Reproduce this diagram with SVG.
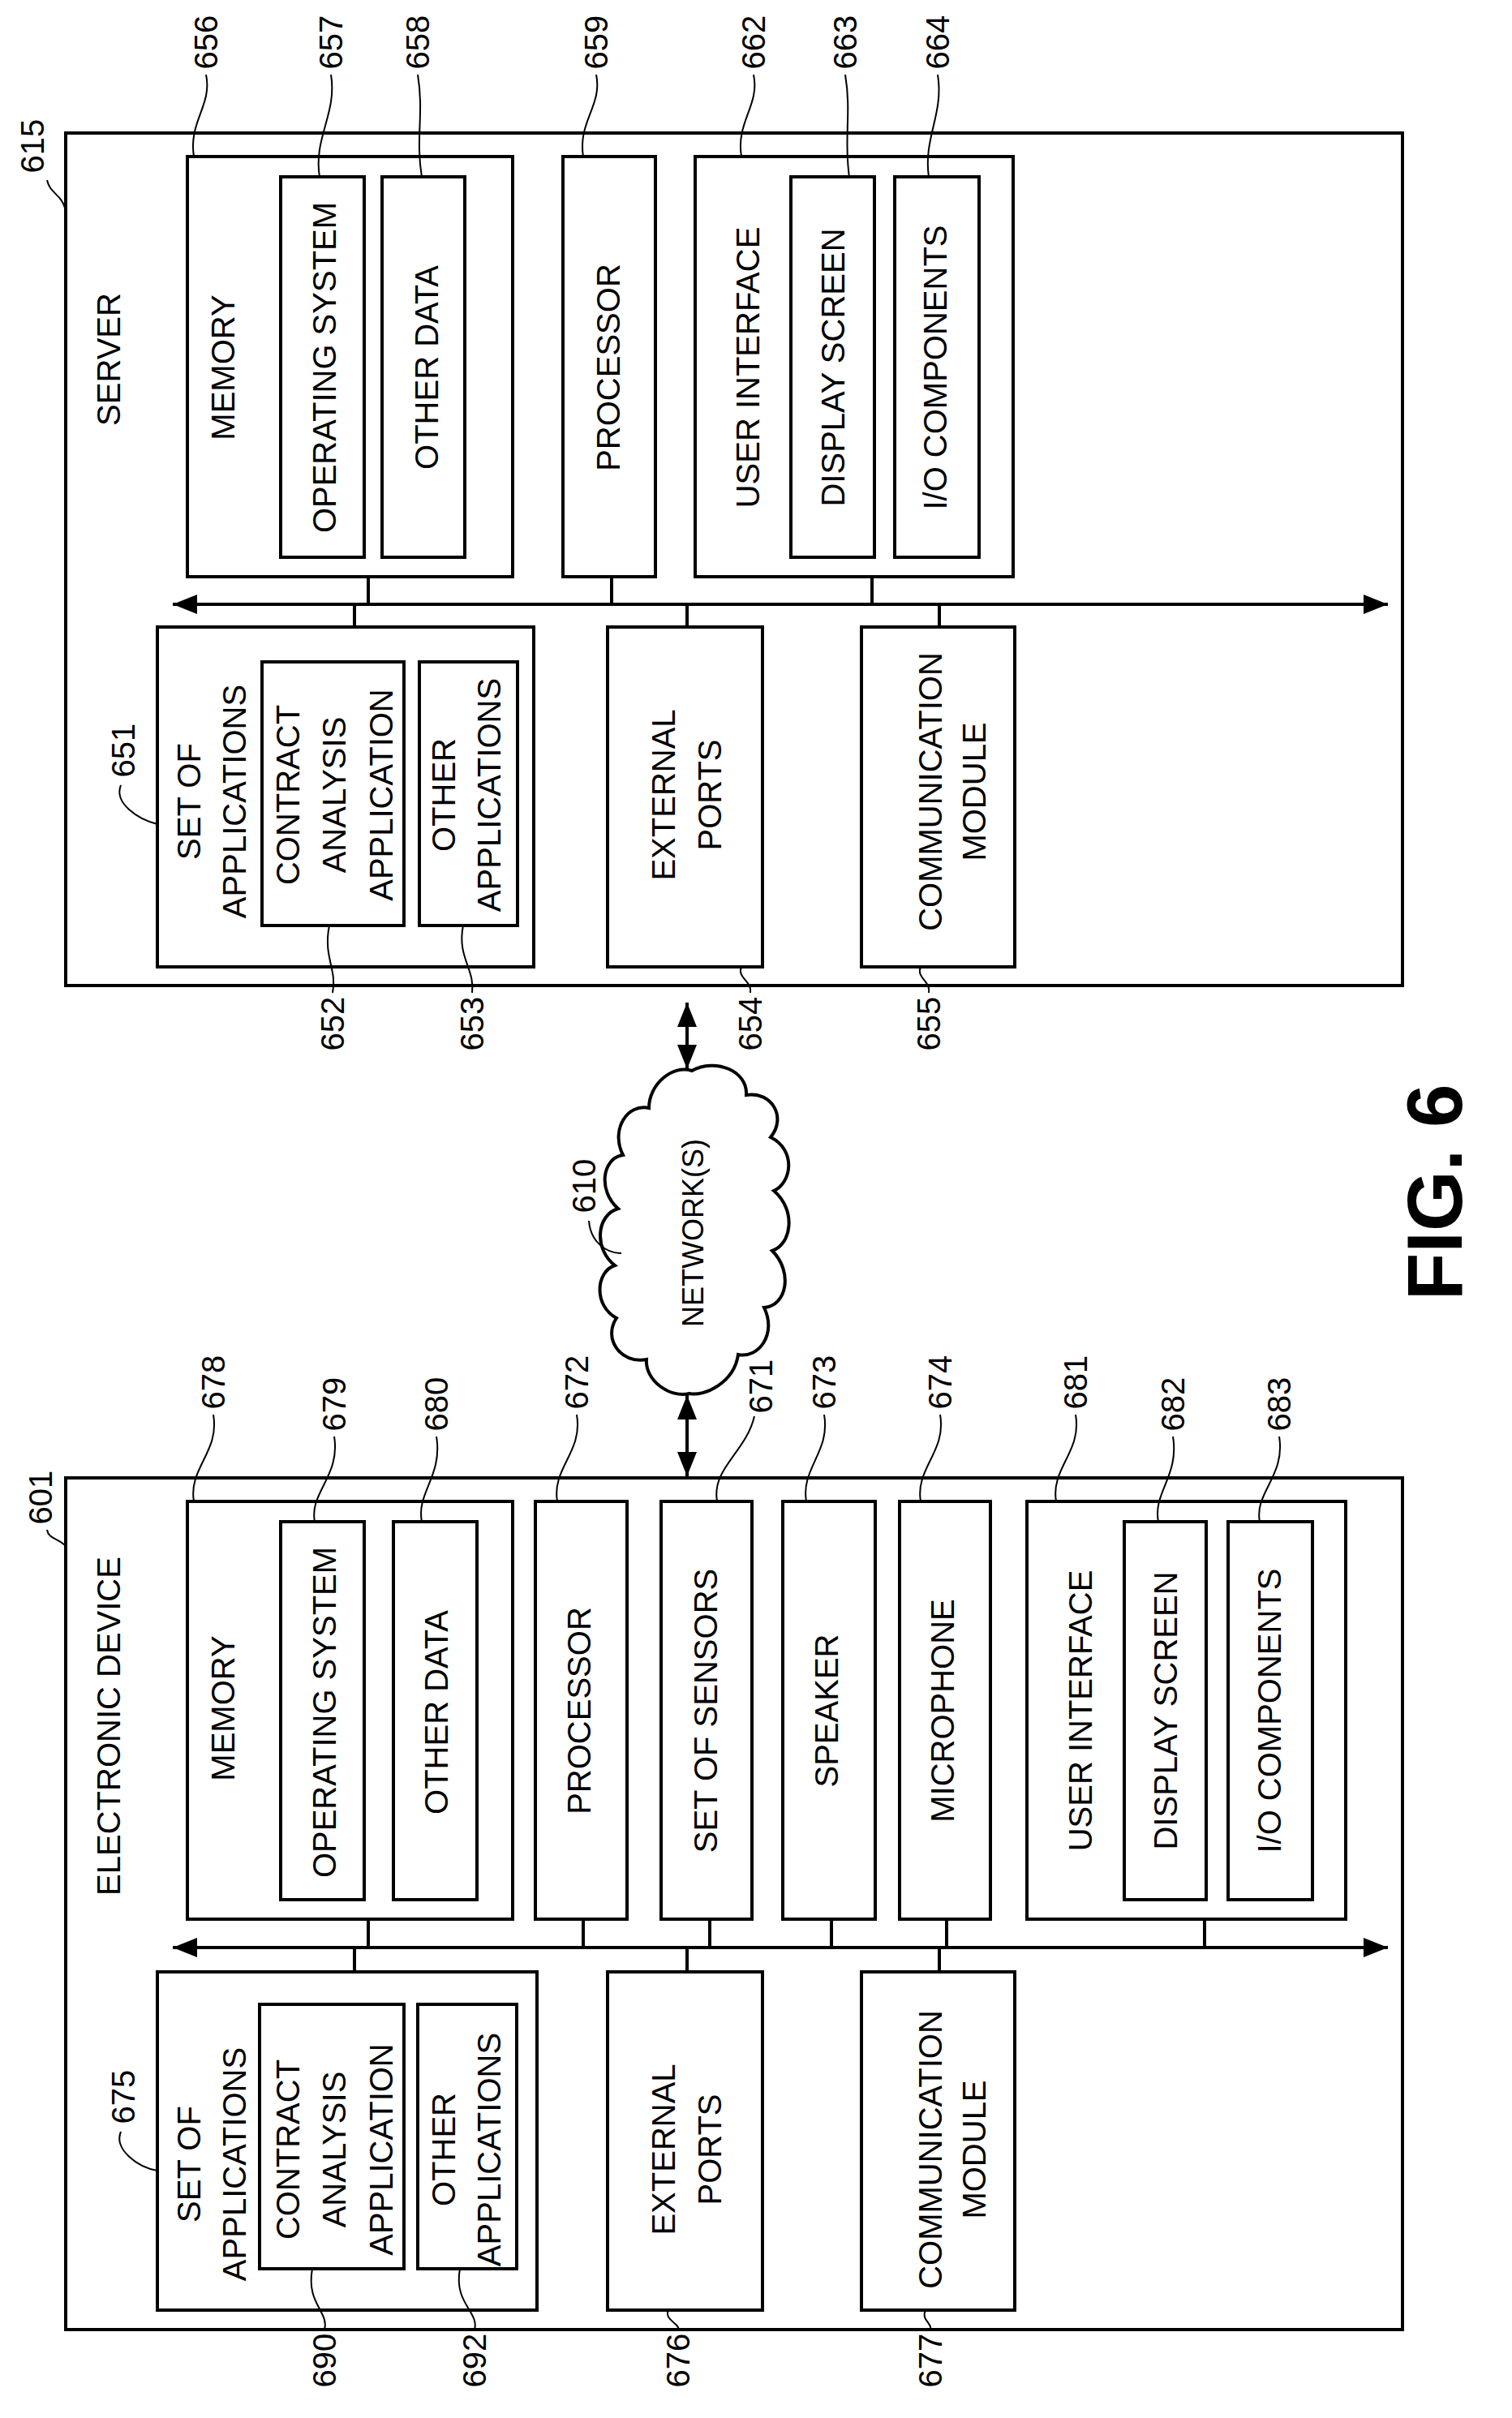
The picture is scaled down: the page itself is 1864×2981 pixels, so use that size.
<svg xmlns="http://www.w3.org/2000/svg" width="1864" height="2981" viewBox="0 0 1864 2981">
<style>
.b{fill:none;stroke:#000;stroke-width:4}
.l{fill:none;stroke:#000;stroke-width:2}
.t{font-family:"Liberation Sans",Arial,sans-serif;font-size:40px;fill:#000;text-anchor:middle;dominant-baseline:central}
.n{font-family:"Liberation Sans",Arial,sans-serif;font-size:40px;fill:#000;text-anchor:middle;dominant-baseline:central}
</style>
<defs>
<marker id="a" viewBox="0 0 30 24" refX="30" refY="12" markerWidth="30" markerHeight="24" orient="auto-start-reverse" markerUnits="userSpaceOnUse"><path d="M0,0 L30,12 L0,24 z"/></marker>
</defs>
<rect width="1864" height="2981" fill="#fff"/>
<g id="server">
<rect class="b" x="81" y="164" width="1648" height="1051"/>
<text class="t" transform="rotate(-90 134 443)" x="134" y="443">SERVER</text>
</g>
<g id="s-memory"><rect class="b" x="231" y="193" width="401" height="518"/><text class="t" transform="rotate(-90 275 453)" x="275" y="453">MEMORY</text></g>
<g id="s-os"><rect class="b" x="346" y="218" width="103" height="469"/><text class="t" transform="rotate(-90 400 453)" x="400" y="453">OPERATING SYSTEM</text></g>
<g id="s-data"><rect class="b" x="471" y="218" width="102" height="469"/><text class="t" transform="rotate(-90 526 453)" x="526" y="453">OTHER DATA</text></g>
<g id="s-proc"><rect class="b" x="694" y="193" width="114" height="518"/><text class="t" transform="rotate(-90 750 453)" x="750" y="453">PROCESSOR</text></g>
<g id="s-ui"><rect class="b" x="857" y="193" width="392" height="518"/><text class="t" transform="rotate(-90 922 453)" x="922" y="453">USER INTERFACE</text></g>
<g id="s-disp"><rect class="b" x="975" y="218" width="103" height="469"/><text class="t" transform="rotate(-90 1027 453)" x="1027" y="453">DISPLAY SCREEN</text></g>
<g id="s-io"><rect class="b" x="1103" y="218" width="104" height="469"/><text class="t" transform="rotate(-90 1153 453)" x="1153" y="453">I/O COMPONENTS</text></g>
<g id="s-apps"><rect class="b" x="194" y="773" width="464" height="419"/>
<text class="t" transform="rotate(-90 233 988)" x="233" y="988">SET OF</text><text class="t" transform="rotate(-90 289 988)" x="289" y="988">APPLICATIONS</text></g>
<g id="s-contract"><rect class="b" x="323" y="816" width="175" height="325"/>
<text class="t" transform="rotate(-90 355 980)" x="355" y="980">CONTRACT</text><text class="t" transform="rotate(-90 412 980)" x="412" y="980">ANALYSIS</text><text class="t" transform="rotate(-90 470 980)" x="470" y="980">APPLICATION</text></g>
<g id="s-other"><rect class="b" x="517" y="816" width="121" height="325"/>
<text class="t" transform="rotate(-90 547 980)" x="547" y="980">OTHER</text><text class="t" transform="rotate(-90 603 980)" x="603" y="980">APPLICATIONS</text></g>
<g id="s-ext"><rect class="b" x="749" y="773" width="191" height="419"/>
<text class="t" transform="rotate(-90 818 980)" x="818" y="980">EXTERNAL</text><text class="t" transform="rotate(-90 875 980)" x="875" y="980">PORTS</text></g>
<g id="s-comm"><rect class="b" x="1062" y="773" width="189" height="419"/>
<text class="t" transform="rotate(-90 1147 976)" x="1147" y="976">COMMUNICATION</text><text class="t" transform="rotate(-90 1201 976)" x="1201" y="976">MODULE</text></g>

<g id="device">
<rect class="b" x="81" y="1822" width="1648" height="1050"/>
<text class="t" transform="rotate(-90 134 2128)" x="134" y="2128">ELECTRONIC DEVICE</text>
</g>
<g id="d-memory"><rect class="b" x="231" y="1851" width="401" height="515"/><text class="t" transform="rotate(-90 275 2106)" x="275" y="2106">MEMORY</text></g>
<g id="d-os"><rect class="b" x="346" y="1876" width="103" height="466"/><text class="t" transform="rotate(-90 400 2111)" x="400" y="2111">OPERATING SYSTEM</text></g>
<g id="d-data"><rect class="b" x="485" y="1876" width="103" height="466"/><text class="t" transform="rotate(-90 538 2111)" x="538" y="2111">OTHER DATA</text></g>
<g id="d-proc"><rect class="b" x="660" y="1851" width="113" height="515"/><text class="t" transform="rotate(-90 714 2109)" x="714" y="2109">PROCESSOR</text></g>
<g id="d-sens"><rect class="b" x="815" y="1851" width="112" height="515"/><text class="t" transform="rotate(-90 870 2109)" x="870" y="2109">SET OF SENSORS</text></g>
<g id="d-spk"><rect class="b" x="965" y="1851" width="114" height="515"/><text class="t" transform="rotate(-90 1019 2109)" x="1019" y="2109">SPEAKER</text></g>
<g id="d-mic"><rect class="b" x="1109" y="1851" width="112" height="515"/><text class="t" transform="rotate(-90 1162 2109)" x="1162" y="2109">MICROPHONE</text></g>
<g id="d-ui"><rect class="b" x="1266" y="1851" width="393" height="515"/><text class="t" transform="rotate(-90 1332 2109)" x="1332" y="2109">USER INTERFACE</text></g>
<g id="d-disp"><rect class="b" x="1386" y="1876" width="101" height="466"/><text class="t" transform="rotate(-90 1437 2109)" x="1437" y="2109">DISPLAY SCREEN</text></g>
<g id="d-io"><rect class="b" x="1514" y="1876" width="104" height="466"/><text class="t" transform="rotate(-90 1565 2109)" x="1565" y="2109">I/O COMPONENTS</text></g>
<g id="d-apps"><rect class="b" x="194" y="2431" width="468" height="417"/>
<text class="t" transform="rotate(-90 233 2668)" x="233" y="2668">SET OF</text><text class="t" transform="rotate(-90 289 2668)" x="289" y="2668">APPLICATIONS</text></g>
<g id="d-contract"><rect class="b" x="320" y="2471" width="178" height="326"/>
<text class="t" transform="rotate(-90 355 2650)" x="355" y="2650">CONTRACT</text><text class="t" transform="rotate(-90 412 2650)" x="412" y="2650">ANALYSIS</text><text class="t" transform="rotate(-90 470 2650)" x="470" y="2650">APPLICATION</text></g>
<g id="d-other"><rect class="b" x="515" y="2471" width="122" height="326"/>
<text class="t" transform="rotate(-90 547 2650)" x="547" y="2650">OTHER</text><text class="t" transform="rotate(-90 603 2650)" x="603" y="2650">APPLICATIONS</text></g>
<g id="d-ext"><rect class="b" x="749" y="2431" width="191" height="417"/>
<text class="t" transform="rotate(-90 818 2650)" x="818" y="2650">EXTERNAL</text><text class="t" transform="rotate(-90 875 2650)" x="875" y="2650">PORTS</text></g>
<g id="d-comm"><rect class="b" x="1062" y="2431" width="189" height="417"/>
<text class="t" transform="rotate(-90 1147 2650)" x="1147" y="2650">COMMUNICATION</text><text class="t" transform="rotate(-90 1201 2650)" x="1201" y="2650">MODULE</text></g>

<g id="network">
<path class="b" d="M853,1320 C882,1304 922,1320 920,1350 C952,1345 970,1378 950,1402 C982,1418 976,1458 954,1468 C982,1492 976,1534 952,1542 C978,1568 970,1610 942,1612 C958,1645 935,1675 910,1670 C905,1705 868,1722 850,1718 C826,1724 795,1702 797,1676 C765,1682 743,1650 760,1625 C732,1610 734,1568 758,1560 C732,1540 735,1498 762,1490 C737,1468 742,1428 768,1424 C752,1392 774,1360 800,1366 C800,1336 830,1312 853,1320 Z"/>
<text class="t" transform="rotate(-90 854 1520)" x="854" y="1520" style="font-size:36px">NETWORK(S)</text>
</g>
<g id="connectors">
<line class="b" x1="213" y1="745" x2="1711" y2="745" marker-start="url(#a)" marker-end="url(#a)"/>
<path class="b" d="M454,711V745M754,711V745M1075,711V745M437,745V773M847,745V773M1158,745V773"/>
<line class="b" x1="213" y1="2401" x2="1711" y2="2401" marker-start="url(#a)" marker-end="url(#a)"/>
<path class="b" d="M454,2366V2401M719,2366V2401M875,2366V2401M1025,2366V2401M1167,2366V2401M1485,2366V2401M437,2401V2431M847,2401V2431M1158,2401V2431"/>
<line class="b" x1="847" y1="1236" x2="847" y2="1318" marker-start="url(#a)" marker-end="url(#a)"/>
<line class="b" x1="847" y1="1720" x2="847" y2="1820" marker-start="url(#a)" marker-end="url(#a)"/>
</g>
<g id="labels">
<text class="n" transform="rotate(-90 40 180)" x="40" y="180">615</text>
<path class="l" d="M58,222 C62,240 76,238 81,260"/>
<text class="n" transform="rotate(-90 254 52)" x="254" y="52">656</text><path class="l" d="M254,92 C262,130 232,150 239,193"/>
<text class="n" transform="rotate(-90 408 52)" x="408" y="52">657</text><path class="l" d="M408,92 C416,140 386,170 394,218"/>
<text class="n" transform="rotate(-90 515 52)" x="515" y="52">658</text><path class="l" d="M515,92 C523,140 512,170 520,218"/>
<text class="n" transform="rotate(-90 735 52)" x="735" y="52">659</text><path class="l" d="M735,92 C743,130 712,150 719,193"/>
<text class="n" transform="rotate(-90 929 52)" x="929" y="52">662</text><path class="l" d="M929,92 C937,130 907,150 914,193"/>
<text class="n" transform="rotate(-90 1042 52)" x="1042" y="52">663</text><path class="l" d="M1042,92 C1050,140 1040,170 1047,218"/>
<text class="n" transform="rotate(-90 1156 52)" x="1156" y="52">664</text><path class="l" d="M1156,92 C1164,140 1138,170 1145,218"/>
<text class="n" transform="rotate(-90 152 925)" x="152" y="925">651</text><path class="l" d="M149,968 C140,990 170,1010 194,1016"/>
<text class="n" transform="rotate(-90 410 1262)" x="410" y="1262">652</text><path class="l" d="M406,1141 C398,1180 416,1195 410,1224"/>
<text class="n" transform="rotate(-90 582 1262)" x="582" y="1262">653</text><path class="l" d="M571,1141 C563,1180 586,1195 582,1224"/>
<text class="n" transform="rotate(-90 925 1262)" x="925" y="1262">654</text><path class="l" d="M914,1192 C908,1205 928,1210 925,1224"/>
<text class="n" transform="rotate(-90 1145 1262)" x="1145" y="1262">655</text><path class="l" d="M1135,1192 C1129,1205 1148,1210 1145,1224"/>
<text class="n" transform="rotate(-90 50 1846)" x="50" y="1846">601</text><path class="l" d="M58,1886 C60,1898 72,1896 81,1906"/>
<text class="n" transform="rotate(-90 263 1704)" x="263" y="1704">678</text><path class="l" d="M263,1744 C271,1790 232,1810 239,1851"/>
<text class="n" transform="rotate(-90 412 1731)" x="412" y="1731">679</text><path class="l" d="M412,1771 C420,1820 381,1840 388,1876"/>
<text class="n" transform="rotate(-90 538 1731)" x="538" y="1731">680</text><path class="l" d="M538,1771 C546,1820 513,1840 520,1876"/>
<text class="n" transform="rotate(-90 711 1704)" x="711" y="1704">672</text><path class="l" d="M711,1744 C719,1790 680,1810 687,1851"/>
<text class="n" transform="rotate(-90 938 1709)" x="938" y="1709">671</text><path class="l" d="M930,1746 C920,1790 877,1810 884,1851"/>
<text class="n" transform="rotate(-90 1016 1704)" x="1016" y="1704">673</text><path class="l" d="M1016,1744 C1024,1790 987,1810 994,1851"/>
<text class="n" transform="rotate(-90 1159 1704)" x="1159" y="1704">674</text><path class="l" d="M1159,1744 C1167,1790 1128,1810 1135,1851"/>
<text class="n" transform="rotate(-90 1326 1704)" x="1326" y="1704">681</text><path class="l" d="M1326,1744 C1334,1790 1295,1810 1302,1851"/>
<text class="n" transform="rotate(-90 1446 1731)" x="1446" y="1731">682</text><path class="l" d="M1446,1771 C1454,1820 1421,1840 1428,1876"/>
<text class="n" transform="rotate(-90 1577 1731)" x="1577" y="1731">683</text><path class="l" d="M1577,1771 C1585,1820 1546,1840 1553,1876"/>
<text class="n" transform="rotate(-90 152 2585)" x="152" y="2585">675</text><path class="l" d="M149,2628 C140,2650 170,2672 194,2676"/>
<text class="n" transform="rotate(-90 400 2910)" x="400" y="2910">690</text><path class="l" d="M385,2797 C377,2840 406,2850 400,2872"/>
<text class="n" transform="rotate(-90 585 2910)" x="585" y="2910">692</text><path class="l" d="M567,2797 C559,2840 591,2850 585,2872"/>
<text class="n" transform="rotate(-90 836 2910)" x="836" y="2910">676</text><path class="l" d="M824,2848 C818,2860 839,2865 836,2872"/>
<text class="n" transform="rotate(-90 1147 2910)" x="1147" y="2910">677</text><path class="l" d="M1141,2848 C1135,2860 1150,2865 1147,2872"/>
<text class="n" transform="rotate(-90 720 1462)" x="720" y="1462">610</text><path class="l" d="M726,1505 C728,1532 748,1545 766,1545"/>
<text class="t" transform="rotate(-90 1768 1470)" x="1768" y="1470" style="font-size:96px;font-weight:bold">FIG. 6</text>
</g>
</svg>
